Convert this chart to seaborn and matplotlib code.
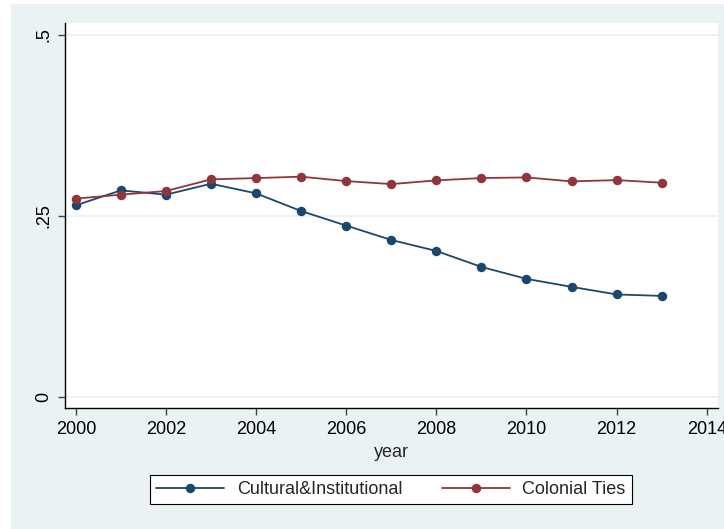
import matplotlib
matplotlib.use("Agg")
import matplotlib.pyplot as plt
from matplotlib.lines import Line2D
from matplotlib.patches import Rectangle
import seaborn as sns
import pandas as pd

years = list(range(2000, 2014))
cultural = [0.2645, 0.2851, 0.2792, 0.2943, 0.2810, 0.2566, 0.2365,
            0.2167, 0.2015, 0.1795, 0.1630, 0.1520, 0.1415, 0.1395]
colonial = [0.2737, 0.2792, 0.2842, 0.3003, 0.3021, 0.3040, 0.2979,
            0.2938, 0.2989, 0.3021, 0.3030, 0.2975, 0.2993, 0.2957]
series_names = ["Cultural&Institutional", "Colonial Ties"]
x_ticks = list(range(2000, 2015, 2))
y_ticks = [0, 0.25, 0.5]
y_tick_labels = ["0", ".25", ".5"]

navy = "#1A476F"
maroon = "#90353B"
region_bg = "#EAF2F3"

df = pd.DataFrame({
    "year": years * 2,
    "value": cultural + colonial,
    "series": [series_names[0]] * len(years) + [series_names[1]] * len(years),
})

sns.set_style("white")
plt.rcParams["font.family"] = ["Liberation Sans", "DejaVu Sans"]

W, H = 724, 529
fig = plt.figure(figsize=(W / 100, H / 100), dpi=100)
fig.patch.set_facecolor("white")
fig.patches.append(Rectangle((11 / W, 0), 1 - 11 / W, 1 - 4 / H,
                             transform=fig.transFigure, facecolor=region_bg,
                             edgecolor="none", zorder=-5))

ax = fig.add_axes([65 / W, 1 - 408 / H, (718 - 65) / W, (408 - 22.7) / H])
ax.set_zorder(1)
ax.set_facecolor("white")

sns.lineplot(data=df, x="year", y="value", hue="series", hue_order=series_names,
             palette=[navy, maroon], marker="o", markersize=6.8,
             markeredgewidth=0, linewidth=1.3, ax=ax, legend=False, zorder=3)

ax.set_xlim(1999.76, 2014.25)
ax.set_ylim(-0.0152, 0.5165)
ax.set_xticks(x_ticks)
ax.set_yticks(y_ticks)
ax.set_yticklabels(y_tick_labels, rotation=90, va="center")
for y in y_ticks:
    ax.axhline(y, color=region_bg, linewidth=1.5, zorder=1)

for side in ["top", "right"]:
    ax.spines[side].set_visible(False)
for side in ["left", "bottom"]:
    ax.spines[side].set_color("black")
    ax.spines[side].set_linewidth(1.0)

ax.tick_params(axis="both", which="major", direction="out", length=5,
               width=1.0, color="#444444", labelsize=13, labelcolor="black",
               pad=4, bottom=True, left=True)
ax.set_xlabel("year", fontsize=13, labelpad=5)
ax.set_ylabel("")

handles = [Line2D([], [], color=c, marker="o", markersize=6.8,
                  markeredgewidth=0, linewidth=1.3) for c in (navy, maroon)]
leg = fig.legend(handles, series_names, loc="center",
                 bbox_to_anchor=(391 / W, 1 - 489.5 / H), ncol=2,
                 fontsize=13, frameon=True, fancybox=False, handlelength=3.75,
                 columnspacing=2.2, handletextpad=0.7, borderpad=0.35,
                 framealpha=1.0)
leg.set_zorder(2)
leg.get_frame().set_edgecolor("black")
leg.get_frame().set_linewidth(0.8)
leg.get_frame().set_facecolor("white")

fig.savefig("out.png", dpi=100)
